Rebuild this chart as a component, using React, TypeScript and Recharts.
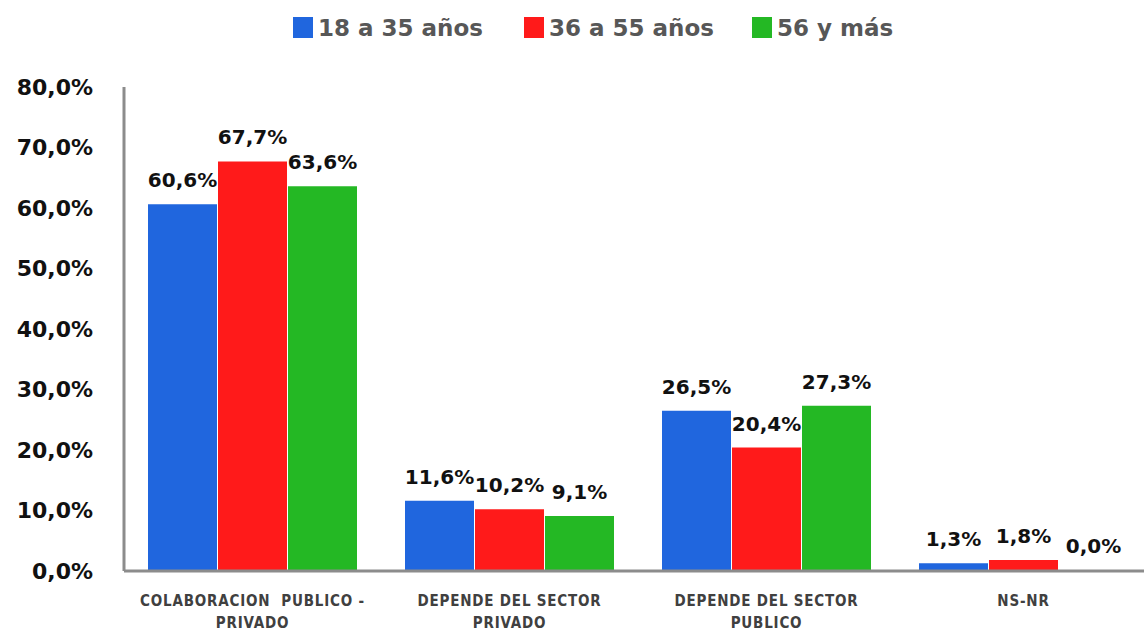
import React from "react";
import {
  BarChart,
  Bar,
  XAxis,
  YAxis,
  LabelList,
} from "recharts";

const categories = [
  ["COLABORACION  PUBLICO -", "PRIVADO"],
  ["DEPENDE DEL SECTOR", "PRIVADO"],
  ["DEPENDE DEL SECTOR", "PUBLICO"],
  ["NS-NR", ""],
];
const young = [0.606, 0.116, 0.265, 0.013];
const middle = [0.677, 0.102, 0.204, 0.018];
const senior = [0.636, 0.091, 0.273, 0.0];
const yTicks = [0, 0.1, 0.2, 0.3, 0.4, 0.5, 0.6, 0.7, 0.8];

const seriesNames = ["18 a 35 años", "36 a 55 años", "56 y más"];
const COLORS = ["#2066DE", "#FF1A1A", "#24B824"];

const data = categories.map((lines, i) => ({
  name: lines.join("|"),
  a: young[i],
  b: middle[i],
  c: senior[i],
}));

const pct = (v: number) => (v * 100).toFixed(1).replace(".", ",") + "%";

const FONT = "'DejaVu Sans', sans-serif";
const COND = "'DejaVu Sans Condensed', 'DejaVu Sans', sans-serif";

function XTick(props: any) {
  const { x, y, payload } = props;
  const lines = String(payload.value).split("|");
  return (
    <g transform={`translate(${x},${y})`}>
      {lines.map((l, i) => (
        <text
          key={i}
          x={0}
          y={27 + i * 22}
          textAnchor="middle"
          fill="#404040"
          fontFamily={COND}
          fontWeight={700}
          fontSize={15}
          letterSpacing={0.8}
          style={{ whiteSpace: "pre" }}
        >
          {l}
        </text>
      ))}
    </g>
  );
}

function TopLegend() {
  const items = [
    { x: 293, label: seriesNames[0], color: COLORS[0] },
    { x: 524, label: seriesNames[1], color: COLORS[1] },
    { x: 752, label: seriesNames[2], color: COLORS[2] },
  ];
  return (
    <svg width={1144} height={60} style={{ position: "absolute", left: 0, top: 0 }}>
      {items.map((it) => (
        <g key={it.label}>
          <rect x={it.x} y={17} width={20} height={21} fill={it.color} />
          <text
            x={it.x + 25}
            y={36}
            fill="#575757"
            fontFamily={FONT}
            fontWeight={700}
            fontSize={23}
          >
            {it.label}
          </text>
        </g>
      ))}
    </svg>
  );
}

export default function App() {
  const labelStyle = {
    fill: "#111",
    fontFamily: FONT,
    fontWeight: 700,
    fontSize: 20,
  };
  return (
    <div style={{ position: "absolute", left: 0, top: 0, width: 1144, height: 632, background: "#fff", overflow: "hidden" }}>
      <BarChart
        width={1152}
        height={632}
        data={data}
        margin={{ top: 87, right: 0, bottom: 0, left: 0 }}
        barGap={1}
        barCategoryGap={24}
      >
        <XAxis
          dataKey="name"
          axisLine={{ stroke: "#8c8c8c", strokeWidth: 3 }}
          tickLine={false}
          tick={<XTick />}
          height={61}
          interval={0}
        />
        <YAxis
          domain={[0, 0.8]}
          ticks={yTicks}
          tickFormatter={pct}
          axisLine={{ stroke: "#8c8c8c", strokeWidth: 3 }}
          tickLine={false}
          tickSize={0}
          tickMargin={31}
          width={124}
          tick={{ fill: "#111", fontFamily: FONT, fontWeight: 700, fontSize: 22 }}
          interval={0}
        />
        <Bar dataKey="a" fill={COLORS[0]} isAnimationActive={false}>
          <LabelList dataKey="a" position="top" offset={17} formatter={pct} style={labelStyle} />
        </Bar>
        <Bar dataKey="b" fill={COLORS[1]} isAnimationActive={false}>
          <LabelList dataKey="b" position="top" offset={17} formatter={pct} style={labelStyle} />
        </Bar>
        <Bar dataKey="c" fill={COLORS[2]} minPointSize={1} isAnimationActive={false}>
          <LabelList dataKey="c" position="top" offset={17} formatter={pct} style={labelStyle} />
        </Bar>
      </BarChart>
      <TopLegend />
    </div>
  );
}
